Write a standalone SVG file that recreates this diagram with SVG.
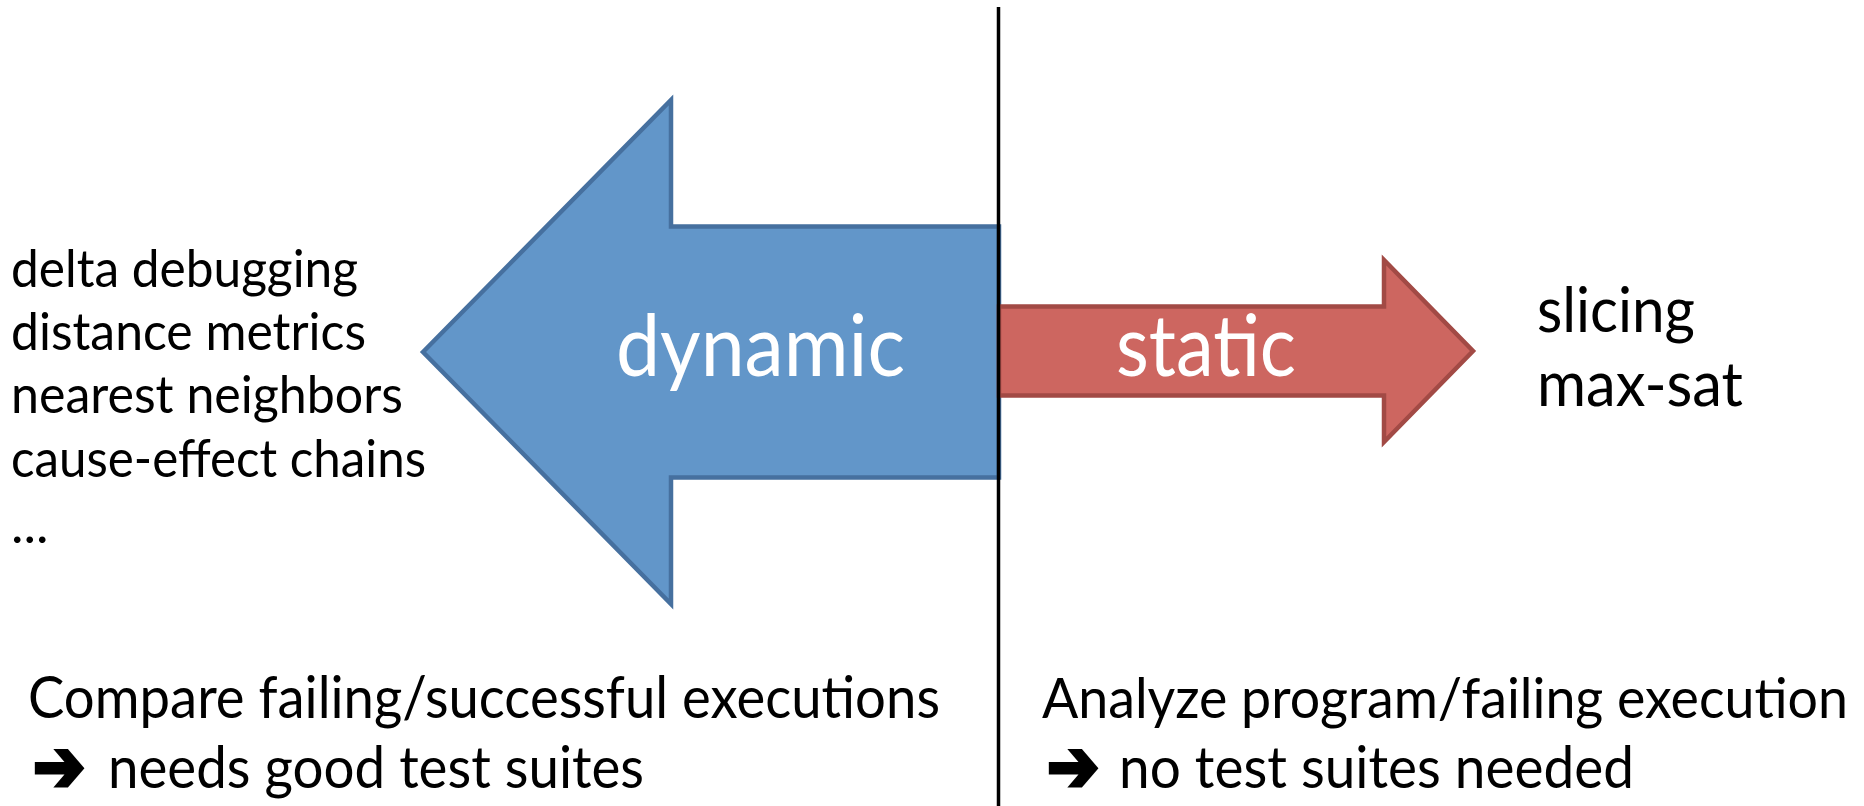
<svg xmlns="http://www.w3.org/2000/svg" width="1864" height="806" viewBox="0 0 1864 806">
<style>
.t{font-family:"Lato","Open Sans","Liberation Sans",sans-serif;fill:#000}
.w{font-family:"Lato","Open Sans","Liberation Sans",sans-serif;fill:#fff}
.sym{font-family:"DejaVu Sans",sans-serif;fill:#000;stroke:#000;stroke-width:4;stroke-linejoin:miter}
.blue{fill:#6296C9;stroke:#46709F;stroke-width:4.5}
.red{fill:#CD6660;stroke:#A24A45;stroke-width:4.5}
</style>
<rect width="1864" height="806" fill="#fff"/>
<g id="dynamic-arrow">
<polygon class="blue" points="423,352 671,100 671,226.5 999,226.5 999,477.5 671,477.5 671,604"/>
<text class="w" x="616" y="376" font-size="85" textLength="289" lengthAdjust="spacingAndGlyphs">dynamic</text>
</g>
<g id="static-arrow">
<polygon class="red" points="999,306.5 1384,306.5 1384,260 1473,351 1384,442 1384,395.5 999,395.5"/>
<text class="w" x="1116" y="376" font-size="85" textLength="180" lengthAdjust="spacingAndGlyphs">static</text>
</g>
<g id="connectors">
<line x1="998.5" y1="7" x2="998.5" y2="806" stroke="#000" stroke-width="3.5"/>
</g>
<g id="dynamic-list" font-size="53">
<text class="t" x="11" y="287" textLength="347" lengthAdjust="spacingAndGlyphs">delta debugging</text>
<text class="t" x="11" y="350" textLength="355" lengthAdjust="spacingAndGlyphs">distance metrics</text>
<text class="t" x="11" y="413" textLength="392" lengthAdjust="spacingAndGlyphs">nearest neighbors</text>
<text class="t" x="11" y="477" textLength="415" lengthAdjust="spacingAndGlyphs">cause-effect chains</text>
<text class="t" x="11" y="543">...</text>
</g>
<g id="static-list" font-size="62">
<text class="t" x="1537" y="332" textLength="158" lengthAdjust="spacingAndGlyphs">slicing</text>
<text class="t" x="1537" y="406" textLength="206" lengthAdjust="spacingAndGlyphs">max-sat</text>
</g>
<g id="dynamic-note" font-size="59">
<text class="t" x="28" y="718" textLength="912" lengthAdjust="spacingAndGlyphs">Compare failing/successful executions</text>
<text class="sym" x="33" y="791" font-size="72" textLength="52" lengthAdjust="spacingAndGlyphs">➔</text>
<text class="t" x="108" y="788" textLength="536" lengthAdjust="spacingAndGlyphs">needs good test suites</text>
</g>
<g id="static-note" font-size="59">
<text class="t" transform="translate(1042,718) scale(1,1.16)" x="0" y="0" font-size="49" textLength="806" lengthAdjust="spacingAndGlyphs">Analyze program/failing execution</text>
<text class="sym" x="1047" y="791" font-size="72" textLength="52" lengthAdjust="spacingAndGlyphs">➔</text>
<text class="t" x="1119" y="788" textLength="515" lengthAdjust="spacingAndGlyphs">no test suites needed</text>
</g>
</svg>
